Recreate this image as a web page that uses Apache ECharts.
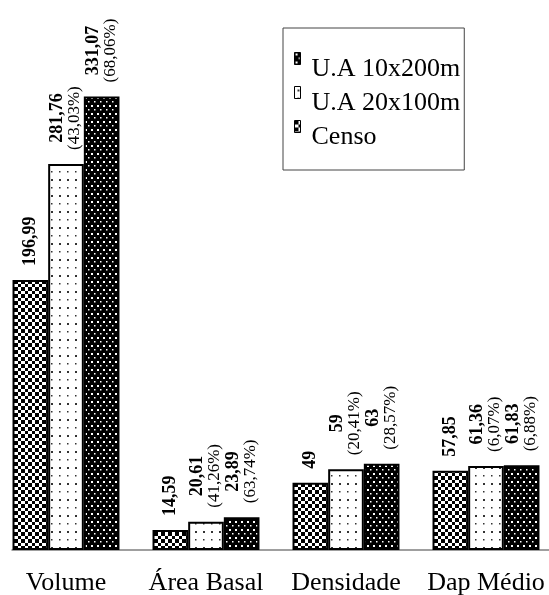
<!DOCTYPE html>
<html>
<head>
<meta charset="utf-8">
<script src="https://cdn.jsdelivr.net/npm/echarts@6/dist/echarts.min.js"></script>
<style>
html,body{margin:0;padding:0;background:#fff;}
#chart{width:549px;height:595px;}
</style>
</head>
<body>
<div id="chart"></div>
<script>
const categories = ['Volume', 'Área Basal', 'Densidade', 'Dap Médio'];
const censo = [196.99, 14.59, 49, 57.85];
const ua20x100 = [281.76, 20.61, 59, 61.36];
const ua10x200 = [331.07, 23.89, 63, 61.83];
const pct20x100 = [43.03, 41.26, 20.41, 6.07];
const pct10x200 = [68.06, 63.74, 28.57, 6.88];
const seriesNames = ['Censo', 'U.A 20x100m', 'U.A 10x200m'];
const legendOrder = ['U.A 10x200m', 'U.A 20x100m', 'Censo'];

function makeTile(w, h, draw) {
  const c = document.createElement('canvas');
  c.width = w; c.height = h;
  const ctx = c.getContext('2d');
  draw(ctx, w, h);
  return { image: c, repeat: 'repeat' };
}
const checkerPat = makeTile(7, 7, (ctx) => {
  ctx.fillStyle = '#fff'; ctx.fillRect(0, 0, 7, 7);
  ctx.fillStyle = '#000';
  ctx.fillRect(0, 0, 4, 4); ctx.fillRect(4, 4, 3, 3);
});
const whiteDotPat = makeTile(8, 16, (ctx) => {
  ctx.fillStyle = '#fff'; ctx.fillRect(0, 0, 8, 16);
  ctx.fillStyle = '#333';
  ctx.fillRect(3, 3, 2, 2); ctx.fillRect(3, 11, 1.5, 1.5);
});
const blackDotPat = makeTile(6, 8, (ctx) => {
  ctx.fillStyle = '#000'; ctx.fillRect(0, 0, 6, 8);
  ctx.fillStyle = '#fff';
  ctx.fillRect(1, 1, 2, 2); ctx.fillRect(4, 5, 1.5, 1.5);
});

const fmtVal = v => Number.isInteger(v) ? String(v) : v.toFixed(2).replace('.', ',');
const fmtPct = v => '(' + v.toFixed(2).replace('.', ',') + '%)';
const serif = '"Liberation Serif", "Times New Roman", serif';

const labelBase = {
  show: true, position: 'top', rotate: 90, align: 'left', verticalAlign: 'middle',
  distance: 14, fontFamily: serif, color: '#000',
  rich: {
    b: { fontFamily: serif, fontWeight: 'bold', fontSize: 18, lineHeight: 17, align: 'center', color: '#000' },
    p: { fontFamily: serif, fontSize: 17, lineHeight: 17, align: 'center', color: '#000' }
  }
};

function mkSeries(name, data, pct, color) {
  return {
    name: name, type: 'bar', data: data, xAxisIndex: 0, yAxisIndex: 0,
    barGap: '0%', barCategoryGap: '23.6%',
    itemStyle: { color: color, borderColor: '#000', borderWidth: 2 },
    label: Object.assign({}, labelBase, {
      formatter: p => pct ? '{b|' + fmtVal(p.value) + '}\n{p|' + fmtPct(pct[p.dataIndex]) + '}' : '{b|' + fmtVal(p.value) + '}'
    })
  };
}

const chart = echarts.init(document.getElementById('chart'), null, { renderer: 'canvas' });
chart.setOption({
  backgroundColor: '#fff',
  animation: false,
  legend: {
    data: legendOrder, orient: 'vertical', left: 283, top: 28,
    icon: 'path://M0,0L6,0L6,12L0,12ZM0,34',
    itemWidth: 6, itemHeight: 34, itemGap: -1,
    itemStyle: { borderColor: '#000', borderWidth: 1 },
    borderColor: '#444', borderWidth: 1,
    padding: [24, 4, 15, 11],
    textStyle: { fontFamily: serif, fontSize: 26, lineHeight: 26, color: '#000', padding: [0, 0, 0, 6] }
  },
  grid: [
    { left: -4, width: 560, top: 2, bottom: 45, outerBoundsMode: 'none', containLabel: false },
    { left: 12, right: 0, top: 2, bottom: 45, outerBoundsMode: 'none', containLabel: false }
  ],
  xAxis: [
    {
      type: 'category', data: categories, gridIndex: 0,
      axisLine: { show: false }, axisTick: { show: false },
      axisLabel: { interval: 0, fontFamily: serif, fontSize: 26, color: '#000', margin: 20 }
    },
    {
      type: 'value', gridIndex: 1, min: 0, max: 1,
      axisLine: { show: true, onZero: false, lineStyle: { color: '#808080', width: 1.5 } },
      axisTick: { show: false }, axisLabel: { show: false }, splitLine: { show: false }
    }
  ],
  yAxis: [
    { type: 'value', gridIndex: 0, min: 0, max: 400, show: false, splitLine: { show: false } },
    { type: 'value', gridIndex: 1, min: 0, max: 1, show: false, splitLine: { show: false } }
  ],
  series: [
    mkSeries(seriesNames[0], censo, null, checkerPat),
    mkSeries(seriesNames[1], ua20x100, pct20x100, whiteDotPat),
    mkSeries(seriesNames[2], ua10x200, pct10x200, blackDotPat)
  ]
});
</script>
</body>
</html>
